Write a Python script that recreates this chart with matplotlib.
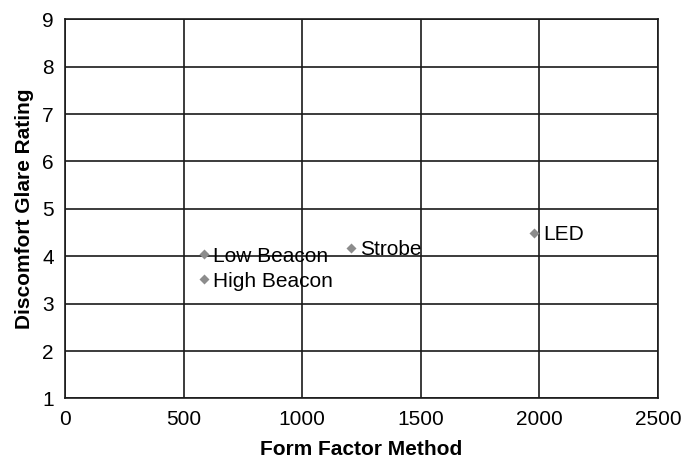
import matplotlib
matplotlib.use("Agg")
import matplotlib.pyplot as plt

# Light sources: form factor vs. discomfort glare rating
labels = ["Low Beacon", "High Beacon", "Strobe", "LED"]
form_factor = [584, 584, 1207, 1979]
glare_rating = [4.04, 3.51, 4.18, 4.50]

plt.rcParams["font.family"] = ["Liberation Sans", "DejaVu Sans"]

fig = plt.figure(figsize=(6.84, 4.58), dpi=100)
ax = fig.add_axes([0.095, 0.130, 0.867, 0.828])

ax.scatter(form_factor, glare_rating, marker="D", s=26, color="#8c8c8c",
           zorder=3, linewidths=0)
for x, y, name in zip(form_factor, glare_rating, labels):
    ax.annotate(name, (x, y), xytext=(6.5, -5.4), textcoords="offset points",
                fontsize=15, va="baseline", ha="left", zorder=4)

ax.set_xlim(0, 2500)
ax.set_ylim(1, 9)
ax.set_xticks(range(0, 2501, 500))
ax.set_yticks(range(1, 10))
ax.grid(True, color="#1a1a1a", linewidth=1.2)
ax.set_axisbelow(True)
ax.tick_params(length=0, labelsize=15)
ax.tick_params(axis="x", pad=8.5)
ax.tick_params(axis="y", pad=8)
for sp in ax.spines.values():
    sp.set_linewidth(1.2)
    sp.set_color("#1a1a1a")

ax.set_xlabel("Form Factor Method", fontsize=15, fontweight="bold")
ax.set_ylabel("Discomfort Glare Rating", fontsize=15, fontweight="bold")
ax.xaxis.set_label_coords(0.5, -0.11)
ax.yaxis.set_label_coords(-0.052, 0.5)

fig.savefig("out.png", dpi=100)
